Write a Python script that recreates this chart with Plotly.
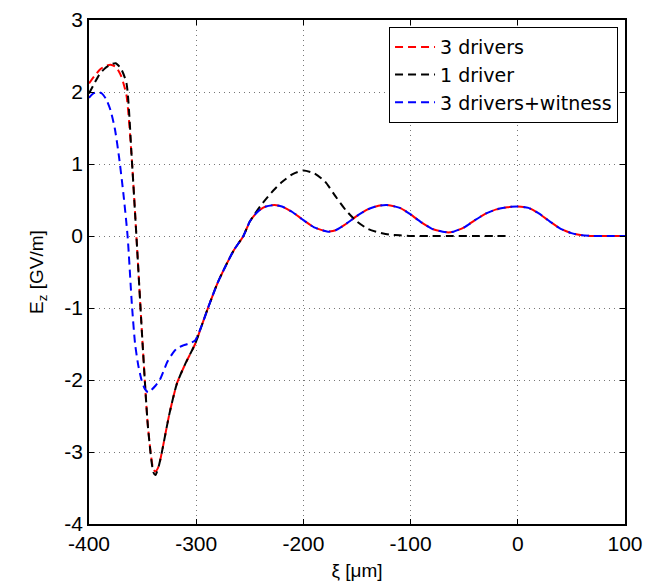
import plotly.graph_objects as go

# 1 driver (black)
x_one = [-400, -395, -390, -385, -380, -375, -370, -365, -360, -355, -350, -345, -340, -338,
         -335, -332, -325, -318, -310, -301, -295, -289, -280, -273, -265, -256, -250, -240,
         -230, -220, -210, -200, -190, -180, -170, -160, -150, -140, -130, -120, -110, -100,
         -80, -60, -40, -20, -10]
y_one = [1.98, 2.12, 2.25, 2.33, 2.38, 2.40, 2.32, 2.12, 1.05, -0.2, -1.5, -2.65, -3.28, -3.32,
         -3.2, -3.0, -2.47, -2.05, -1.77, -1.5, -1.25, -1.0, -0.65, -0.43, -0.2, 0.0, 0.2, 0.42,
         0.6, 0.75, 0.86, 0.91, 0.87, 0.76, 0.55, 0.35, 0.2, 0.1, 0.05, 0.02, 0.01, 0.0,
         0.0, 0.0, 0.0, 0.0, 0.0]

# 3 drivers (red)
x_three = [-400, -395, -390, -385, -380, -375, -370, -365, -360, -355, -350, -345, -340, -338,
           -335, -332, -325, -318, -310, -301, -295, -289, -280, -273, -265, -256, -250, -245,
           -240, -235, -227, -220, -210, -200, -190, -180, -177, -170, -160, -150, -140, -130,
           -122, -110, -100, -90, -80, -70, -65, -60, -50, -40, -30, -20, -10, 0, 10, 20, 30,
           40, 50, 60, 70, 80, 90, 100]
y_three = [2.12, 2.22, 2.31, 2.36, 2.38, 2.35, 2.22, 1.95, 1.05, -0.2, -1.5, -2.65, -3.24, -3.27,
           -3.2, -3.0, -2.47, -2.05, -1.77, -1.5, -1.25, -1.0, -0.65, -0.43, -0.2, 0.0, 0.2, 0.3,
           0.37, 0.41, 0.43, 0.41, 0.33, 0.22, 0.12, 0.07, 0.06, 0.08, 0.17, 0.28, 0.37, 0.42,
           0.43, 0.39, 0.30, 0.19, 0.10, 0.06, 0.05, 0.06, 0.12, 0.22, 0.31, 0.37, 0.40, 0.41,
           0.39, 0.31, 0.20, 0.10, 0.04, 0.01, 0.0, 0.0, 0.0, 0.0]

# 3 drivers + witness (blue)
x_wit = [-400, -396, -392, -388, -384, -380, -376, -372, -368, -364, -360, -357, -354, -351,
         -348, -345, -342, -338, -334, -330, -327, -322, -318, -312, -306, -301, -295, -289,
         -280, -273, -265, -256, -250, -245, -240, -235, -227, -220, -210, -200, -190, -180,
         -177, -170, -160, -150, -140, -130, -122, -110, -100, -90, -80, -70, -65, -60, -50,
         -40, -30, -20, -10, 0, 10, 20, 30, 40, 50, 60, 70, 80, 90, 100]
y_wit = [1.92, 1.98, 2.0, 1.98, 1.9, 1.75, 1.5, 1.1, 0.6, 0.0, -0.95, -1.5, -1.8, -2.0,
         -2.12, -2.17, -2.14, -2.08, -2.0, -1.86, -1.75, -1.63, -1.56, -1.52, -1.49, -1.45, -1.25, -1.0,
         -0.65, -0.43, -0.2, 0.0, 0.2, 0.3, 0.37, 0.41, 0.43, 0.41, 0.33, 0.22, 0.12, 0.07,
         0.06, 0.08, 0.17, 0.28, 0.37, 0.42, 0.43, 0.39, 0.30, 0.19, 0.10, 0.06, 0.05, 0.06, 0.12,
         0.22, 0.31, 0.37, 0.40, 0.41, 0.39, 0.31, 0.20, 0.10, 0.04, 0.01, 0.0, 0.0, 0.0, 0.0]

x_ticks = [-400, -300, -200, -100, 0, 100]
y_ticks = [-4, -3, -2, -1, 0, 1, 2, 3]

FONT = "Liberation Sans, Arial, sans-serif"
LEGFONT = "DejaVu Sans, Liberation Sans, sans-serif"

fig = go.Figure()
series = [
    ("3 drivers", x_three, y_three, "#ff0000"),
    ("1 driver", x_one, y_one, "#000000"),
    ("3 drivers+witness", x_wit, y_wit, "#0000ff"),
]
for i, (name, xs, ys, col) in enumerate(series):
    fig.add_trace(go.Scatter(
        x=xs, y=ys, mode="lines", name=name, legendgroup=f"g{i}",
        line=dict(color=col, width=2, dash="8px,5px", shape="spline", smoothing=0.6),
    ))

axis_common = dict(
    showline=True, linecolor="#000000", linewidth=1.5, mirror="ticks",
    ticks="inside", ticklen=5, tickcolor="#000000", tickwidth=1,
    showgrid=True, gridcolor="#777777", griddash="1px,4px", gridwidth=1,
    zeroline=False, tickfont=dict(family=FONT, size=21, color="#000000"),
    automargin=False,
)

fig.update_xaxes(range=[-400, 100], tickvals=x_ticks, ticktext=[str(v) for v in x_ticks],
                 title=dict(text="ξ [μm]", font=dict(family=FONT, size=19, color="#000"), standoff=12),
                 **axis_common)
fig.update_yaxes(range=[-4, 3], tickvals=y_ticks, ticktext=[str(v) for v in y_ticks],
                 title=dict(text="E<sub>z</sub> [GV/m]", font=dict(family=FONT, size=19, color="#000"), standoff=16),
                 **axis_common)

fig.update_layout(
    width=653, height=581,
    margin=dict(l=89, r=28, t=20, b=57),
    plot_bgcolor="#ffffff", paper_bgcolor="#ffffff",
    showlegend=True,
    legend=dict(x=0.987, y=0.986, xanchor="right", yanchor="top",
                bgcolor="#ffffff", bordercolor="#000000", borderwidth=1,
                font=dict(family=LEGFONT, size=19, color="#000"), tracegroupgap=0,
                itemwidth=40),
)

fig.write_html("out.html")
